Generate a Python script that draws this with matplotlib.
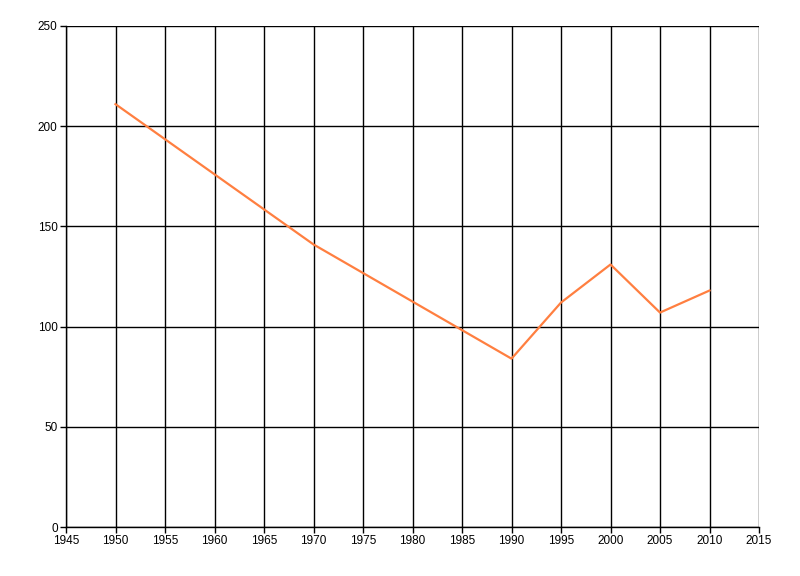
import matplotlib
matplotlib.use("Agg")
import matplotlib.pyplot as plt

years = [1950, 1970, 1990, 1995, 2000, 2005, 2010]
values = [211, 141, 84, 112, 131, 107, 118]

x_ticks = list(range(1945, 2016, 5))
y_ticks = list(range(0, 251, 50))

plt.rcParams["font.family"] = ["Liberation Sans", "DejaVu Sans"]

fig = plt.figure(figsize=(8, 5.76), dpi=100)
ax = fig.add_axes([66 / 800, 1 - 527 / 576, (759 - 66) / 800, (527 - 26) / 576])

ax.plot(years, values, color="#FF7F40", linewidth=1.6, zorder=3)

ax.set_xlim(1945, 2015)
ax.set_ylim(0, 250)
ax.set_xticks(x_ticks)
ax.set_yticks(y_ticks)
ax.grid(True, color="black", linewidth=1)
for s in ax.spines.values():
    s.set_color("black")
    s.set_linewidth(1)
ax.spines["top"].set_visible(False)
ax.spines["right"].set_visible(False)
ax.tick_params(axis="both", length=4, width=1, labelsize=8.5, color="black", pad=2)

fig.savefig("out.png", dpi=100)
